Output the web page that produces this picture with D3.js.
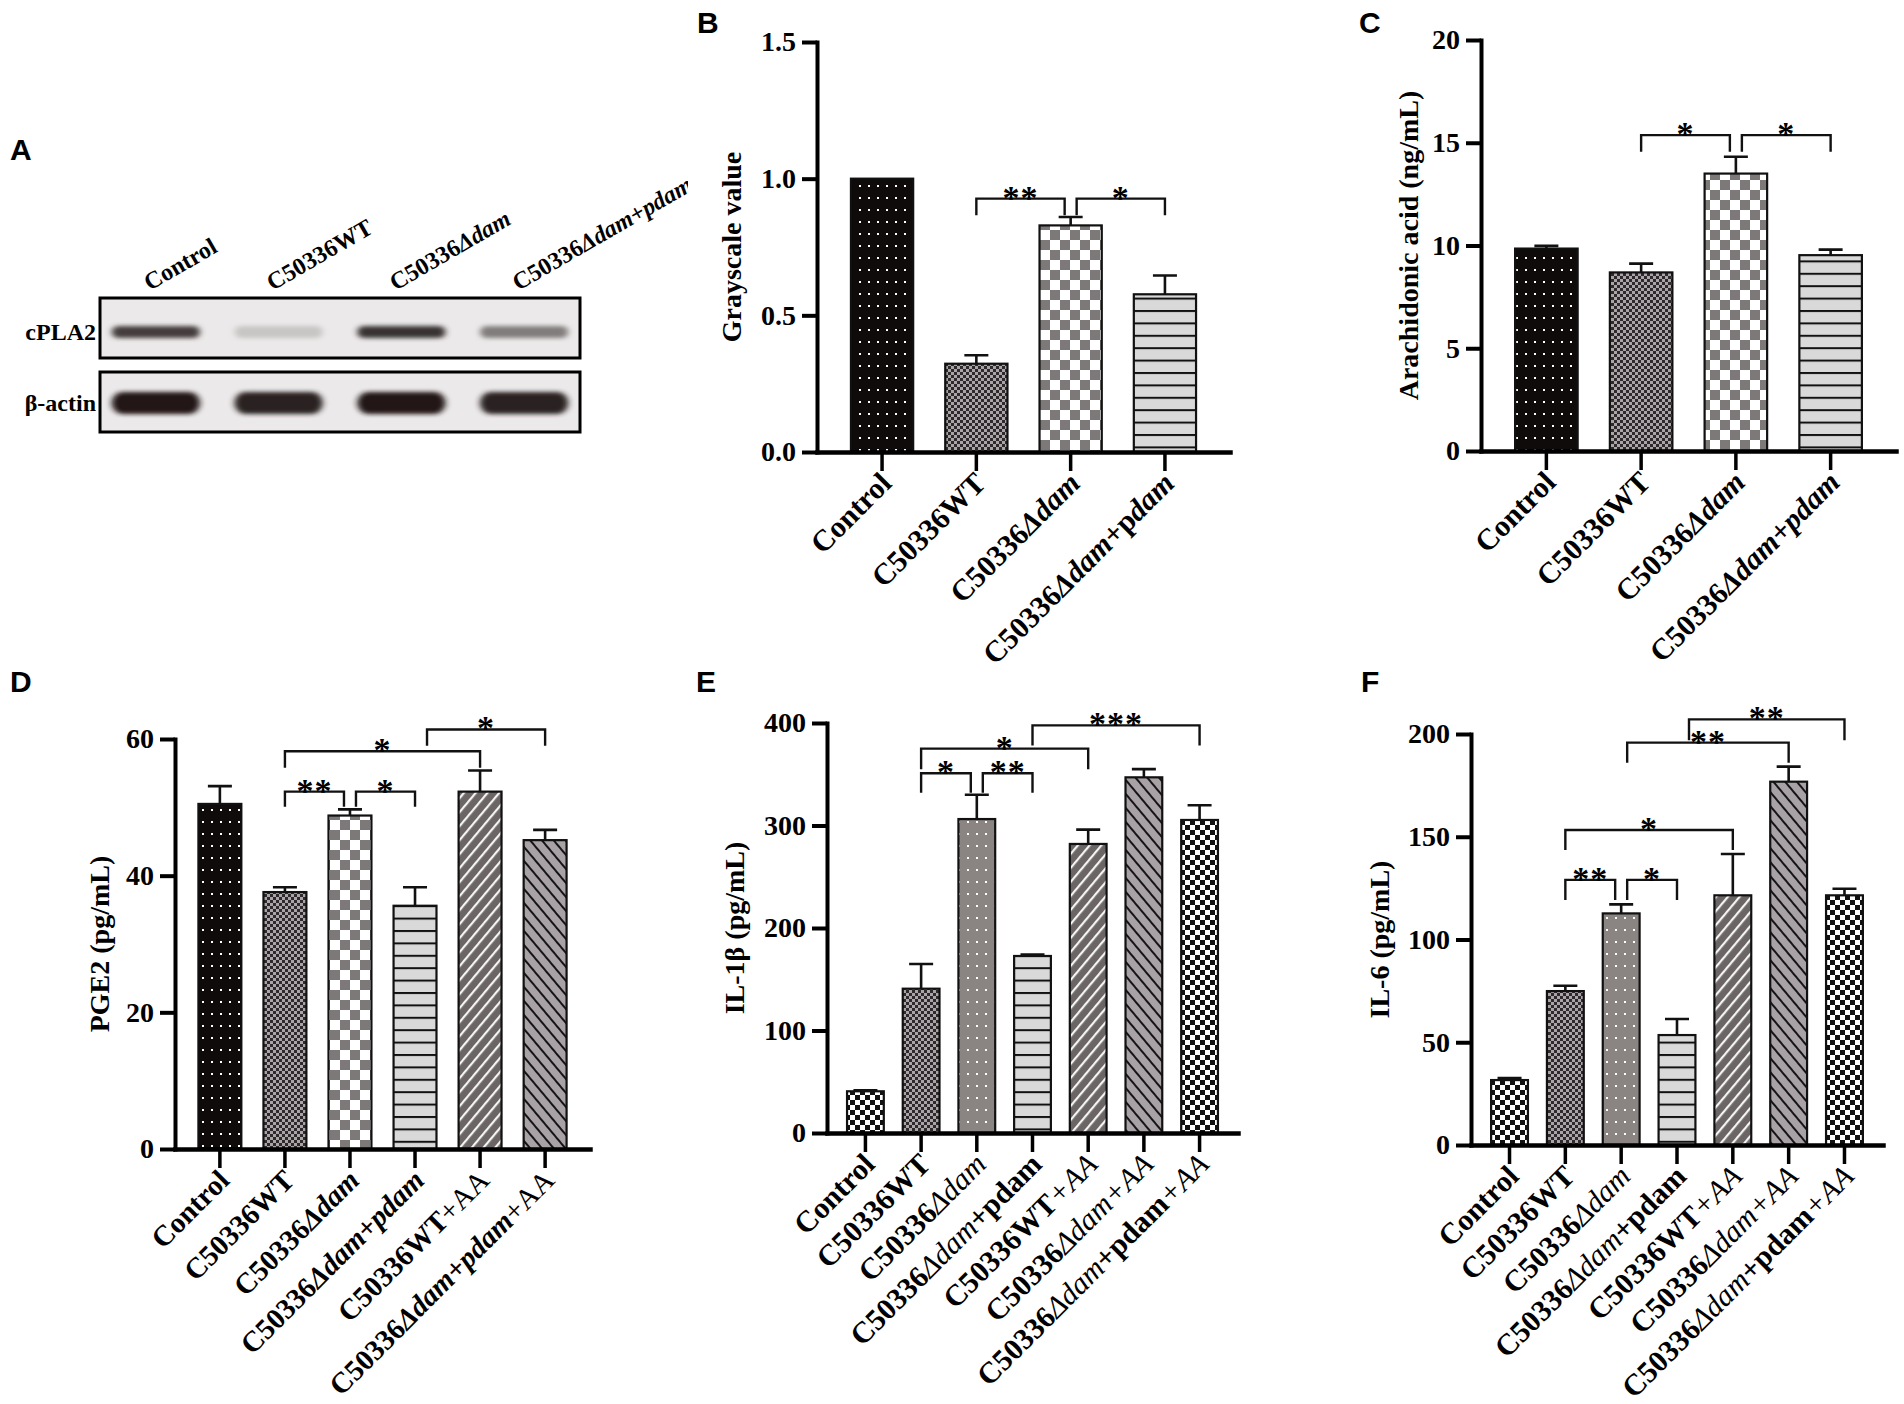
<!DOCTYPE html>
<html lang="en">
<head>
  <meta charset="UTF-8" />
  <title>cPLA2, AA, PGE2, IL-1β and IL-6 panels</title>
  <script src="https://d3js.org/d3.v7.min.js"></script>
  <style>
    body { margin: 0; background: #fff; }
    svg text { font-family: "Liberation Serif", "Times New Roman", serif; }
    svg text.letter { font-family: "Liberation Sans", Arial, sans-serif; font-weight: bold; font-size: 30px; }
  </style>
</head>
<body>
  <svg id="fig" width="1904" height="1404"></svg>

  <script>
    // ---------- data ----------
    // panel A: western blot, relative band darkness per lane (0 = blank, 1 = black)
    const blotLanes = ["Control", "C50336WT", "C50336Δdam", "C50336Δdam+pdam"];
    const blotRows = ["cPLA2", "β-actin"];
    const cpla2Band = [0.80, 0.16, 0.86, 0.50];
    const actinBand = [0.97, 0.92, 0.97, 0.93];

    // panels B, C
    const groups4 = ["Control", "C50336WT", "C50336Δdam", "C50336Δdam+pdam"];
    const grayMean = [1.00, 0.323, 0.829, 0.577];
    const graySem  = [0.00, 0.031, 0.031, 0.069];
    const aaMean = [9.85, 8.69, 13.5, 9.53];
    const aaSem  = [0.13, 0.43, 0.82, 0.27];

    // panel D
    const groups6 = ["Control", "C50336WT", "C50336Δdam", "C50336Δdam+pdam", "C50336WT+AA", "C50336Δdam+pdam+AA"];
    const pge2Mean = [50.5, 37.6, 48.8, 35.6, 52.3, 45.2];
    const pge2Sem  = [2.6, 0.7, 0.9, 2.7, 3.1, 1.5];

    // panels E, F
    const groups7 = ["Control", "C50336WT", "C50336Δdam", "C50336Δdam+pdam", "C50336WT+AA", "C50336Δdam+AA", "C50336Δdam+pdam+AA"];
    const il1bMean = [40.7, 140.8, 306.3, 172.7, 282.0, 347.0, 305.4];
    const il1bSem  = [0.9, 24.1, 23.7, 1.3, 14.0, 8.0, 14.3];
    const il6Mean = [31.6, 74.9, 112.7, 53.5, 121.5, 176.8, 121.5];
    const il6Sem  = [1.0, 2.6, 4.4, 7.8, 20.1, 7.3, 3.2];

    // significance brackets: a/b = group index, y = bracket level, leg = where legs stop
    // na/nb = small sideways nudge (in steps of 6px) so neighbouring brackets don't touch
    const sigB = [
      { a: 1, b: 2, y: 0.927, leg: 0.866, s: "**", nb: -1 },
      { a: 2, b: 3, y: 0.927, leg: 0.866, s: "*", na: 1 }
    ];
    const sigC = [
      { a: 1, b: 2, y: 15.37, leg: 14.56, s: "*", nb: -1 },
      { a: 2, b: 3, y: 15.37, leg: 14.56, s: "*", na: 1 }
    ];
    const sigD = [
      { a: 1, b: 2, y: 52.3, leg: 50.1, s: "**", nb: -1 },
      { a: 2, b: 3, y: 52.3, leg: 50.1, s: "*", na: 1 },
      { a: 1, b: 4, y: 58.2, leg: 55.8, s: "*" },
      { a: 3, b: 5, y: 61.4, leg: 59.0, s: "*", na: 2 }
    ];
    const sigE = [
      { a: 1, b: 2, y: 351, leg: 332, s: "*", nb: -1 },
      { a: 2, b: 3, y: 351, leg: 332, s: "**", na: 1 },
      { a: 1, b: 4, y: 375, leg: 355, s: "*" },
      { a: 3, b: 6, y: 397.7, leg: 378, s: "***" }
    ];
    const sigF = [
      { a: 1, b: 2, y: 129, leg: 119.2, s: "**", nb: -1 },
      { a: 2, b: 3, y: 129, leg: 119.2, s: "*", na: 1 },
      { a: 1, b: 4, y: 153.3, leg: 143.6, s: "*" },
      { a: 2, b: 5, y: 195.8, leg: 186, s: "**", na: 1 },
      { a: 3, b: 6, y: 207.1, leg: 197, s: "**", na: 2 }
    ];

    // ---------- drawing ----------
    const svg = d3.select("#fig");
    const defs = svg.append("defs");
    const SERIF = "'Liberation Serif', 'Times New Roman', serif";

    function pattern(id, w, h, bg, draw, transform) {
      const p = defs.append("pattern")
        .attr("id", id)
        .attr("patternUnits", "userSpaceOnUse")
        .attr("width", w)
        .attr("height", h);
      if (transform) p.attr("patternTransform", transform);
      p.append("rect").attr("width", w).attr("height", h).attr("fill", bg);
      draw(p);
    }

    pattern("dotsBlack", 9, 12, "#0f0b0b", p => p.append("rect").attr("x", 4).attr("y", 5).attr("width", 2).attr("height", 2).attr("fill", "#fff"));
    pattern("dotsGray", 9, 12, "#8a8482", p => p.append("rect").attr("x", 4).attr("y", 5).attr("width", 2).attr("height", 2).attr("fill", "#fff"));
    pattern("checkDark", 6, 6, "#aaa3a7", p => {
      p.append("rect").attr("width", 3).attr("height", 3).attr("fill", "#2e2a2b");
      p.append("rect").attr("x", 3).attr("y", 3).attr("width", 3).attr("height", 3).attr("fill", "#2e2a2b");
    });
    pattern("checkLarge", 20, 20, "#ffffff", p => {
      p.append("rect").attr("width", 10).attr("height", 10).attr("fill", "#7d7979");
      p.append("rect").attr("x", 10).attr("y", 10).attr("width", 10).attr("height", 10).attr("fill", "#7d7979");
    });
    pattern("checkBW", 10, 10, "#ffffff", p => {
      p.append("rect").attr("width", 5).attr("height", 5).attr("fill", "#111");
      p.append("rect").attr("x", 5).attr("y", 5).attr("width", 5).attr("height", 5).attr("fill", "#111");
    });
    pattern("hLines", 10, 12.4, "#d9d9d9", p => p.append("rect").attr("width", 10).attr("height", 2).attr("fill", "#111"));
    pattern("diagFwd", 9, 9, "#6b6565", p => p.append("rect").attr("width", 2.2).attr("height", 9).attr("fill", "#f4f4f4"), "rotate(40)");
    pattern("diagBack", 9, 9, "#a8a1a6", p => p.append("rect").attr("width", 2).attr("height", 9).attr("fill", "#151515"), "rotate(-40)");

    const blur = defs.append("filter").attr("id", "bandBlur").attr("x", "-20%").attr("y", "-60%").attr("width", "140%").attr("height", "220%");
    blur.append("feGaussianBlur").attr("stdDeviation", "3 2.2");

    // panel letters
    const letters = [["A", 10, 160], ["B", 697, 33], ["C", 1359, 33], ["D", 10, 692], ["E", 696, 692], ["F", 1361, 692]];
    svg.selectAll("text.letter").data(letters).join("text")
      .attr("class", "letter")
      .attr("x", d => d[1]).attr("y", d => d[2])
      .text(d => d[0]);

    // ---------- panel A: blot ----------
    (function drawBlot() {
      const g = svg.append("g");
      const lane = d3.scaleBand().domain(blotLanes).range([100, 580]).paddingInner(0.25).paddingOuter(0.08);
      const row = d3.scaleOrdinal().domain(blotRows).range([[298, 358], [372, 432]]);
      const shade = d3.interpolateRgb("#e9e7e7", "#1b1212");
      const bandH = { "cPLA2": 12, "β-actin": 22 };
      const bandY = { "cPLA2": 332, "β-actin": 403 };
      const levels = { "cPLA2": cpla2Band, "β-actin": actinBand };

      const clip = defs.append("clipPath").attr("id", "clipA");
      clip.append("rect").attr("x", 0).attr("y", 150).attr("width", 688).attr("height", 300);

      blotRows.forEach(r => {
        const [y0, y1] = row(r);
        g.append("rect").attr("x", 100).attr("y", y0).attr("width", 480).attr("height", y1 - y0)
          .attr("fill", "#ebe9e9");
        g.append("g").attr("filter", "url(#bandBlur)")
          .selectAll("rect").data(blotLanes).join("rect")
          .attr("x", d => lane(d) + 2)
          .attr("width", lane.bandwidth() - 4)
          .attr("y", bandY[r] - bandH[r] / 2)
          .attr("height", bandH[r])
          .attr("rx", bandH[r] / 2)
          .attr("fill", (d, i) => shade(levels[r][i]));
        g.append("rect").attr("x", 100).attr("y", y0).attr("width", 480).attr("height", y1 - y0)
          .attr("fill", "none").attr("stroke", "#000").attr("stroke-width", 3);
        g.append("text")
          .attr("x", 96).attr("y", bandY[r] + 8)
          .attr("text-anchor", "end")
          .attr("font-size", 24).attr("font-weight", "bold")
          .text(r);
      });

      const labels = g.append("g").attr("clip-path", "url(#clipA)");
      labels.selectAll("text").data(blotLanes).join("text")
        .attr("transform", d => `translate(${lane(d) + lane.bandwidth() / 2 - 6},291) rotate(-30)`)
        .attr("font-size", 24).attr("font-weight", "bold")
        .each(function (d) {
          const t = d3.select(this);
          const m = d.match(/^(C50336)(Δdam)?(\+p)?(dam)?(WT)?$/);
          if (!m) { t.text(d); return; }
          t.append("tspan").text(m[1] + (m[5] || ""));
          if (m[2]) t.append("tspan").attr("font-style", "italic").text(m[2]);
          if (m[3]) t.append("tspan").attr("font-style", "italic").text("+p");
          if (m[4]) t.append("tspan").attr("font-style", "italic").text(m[4]);
        });
    })();

    // ---------- bar panels ----------
    const fillsB = ["dotsBlack", "checkDark", "checkLarge", "hLines"];
    const fillsD = ["dotsBlack", "checkDark", "checkLarge", "hLines", "diagFwd", "diagBack"];
    const fillsE = ["checkBW", "checkDark", "dotsGray", "hLines", "diagFwd", "diagBack", "checkBW"];

    // how each panel typesets the group names
    const typeB = { dam: "bold", pdam: "split", aa: "regular" };
    const typeC = { dam: "bold", pdam: "italic", aa: "regular" };
    const typeE = { dam: "normal", pdam: "bold", aa: "italic" };

    function addLabel(text, name, type) {
      const parts = name.split(/(Δdam|\+pdam|\+AA)/).filter(s => s.length);
      parts.forEach(s => {
        if (s === "Δdam") {
          text.append("tspan").attr("font-style", "italic").attr("font-weight", type.dam).text(s);
        } else if (s === "+pdam") {
          if (type.pdam === "split") {
            text.append("tspan").text("+p");
            text.append("tspan").attr("font-style", "italic").text("dam");
          } else if (type.pdam === "italic") {
            text.append("tspan").attr("font-style", "italic").text(s);
          } else {
            text.append("tspan").text(s);
          }
        } else if (s === "+AA") {
          text.append("tspan").attr("font-weight", "normal")
            .attr("font-style", type.aa === "italic" ? "italic" : "normal").text(s);
        } else {
          text.append("tspan").text(s);
        }
      });
    }

    function barPanel(p) {
      const g = svg.append("g");
      const x = d3.scaleBand().domain(p.groups).range([p.x0, p.x1]).paddingInner(0.34).paddingOuter(0.36);
      const y = d3.scaleLinear().domain(p.domain).range([p.yZero, p.yTop]);
      const bw = x.bandwidth();
      const rows = p.groups.map((gname, i) => ({ g: gname, m: p.mean[i], e: p.sem[i], fill: p.fills[i] }));

      // bars
      g.append("g").selectAll("rect").data(rows).join("rect")
        .attr("x", d => x(d.g))
        .attr("y", d => y(d.m))
        .attr("width", bw)
        .attr("height", d => y(0) - y(d.m))
        .attr("fill", d => `url(#${d.fill})`)
        .attr("stroke", "#111")
        .attr("stroke-width", 2.2);

      // error bars (upper only)
      const eb = g.append("g").attr("stroke", "#111").attr("stroke-width", 2.6).attr("fill", "none");
      eb.selectAll("path").data(rows.filter(d => d.e > 0)).join("path")
        .attr("d", d => {
          const cx = x(d.g) + bw / 2;
          return `M${cx},${y(d.m)}V${y(d.m + d.e)}M${cx - 12},${y(d.m + d.e)}H${cx + 12}`;
        });

      // y axis
      const ya = g.append("g")
        .attr("transform", `translate(${p.x0},0)`)
        .call(d3.axisLeft(y).tickValues(p.ticks).tickFormat(p.fmt).tickSize(15).tickSizeOuter(0).tickPadding(6));
      ya.attr("font-family", SERIF).attr("font-size", 28).attr("font-weight", "bold");
      ya.select(".domain").attr("stroke-width", 4).attr("stroke", "#000").attr("stroke-linecap", "square");
      ya.selectAll(".tick line").attr("stroke-width", 4).attr("stroke", "#000");
      ya.selectAll(".tick text").attr("fill", "#000");

      // x axis
      const xa = g.append("g")
        .attr("transform", `translate(0,${p.yZero})`)
        .call(d3.axisBottom(x).tickSize(19).tickSizeOuter(0).tickFormat(""));
      xa.select(".domain").attr("stroke-width", 4.5).attr("stroke", "#000").attr("stroke-linecap", "square");
      xa.selectAll(".tick line").attr("stroke-width", 3.5).attr("stroke", "#000");

      // rotated group names
      g.append("g").selectAll("text").data(p.groups).join("text")
        .attr("transform", d => `translate(${x(d) + bw / 2 + 11},${p.yZero + 33}) rotate(-45)`)
        .attr("text-anchor", "end")
        .attr("font-size", p.labelSize || 30)
        .attr("font-weight", "bold")
        .each(function (d) { addLabel(d3.select(this), d, p.type); });

      // y title
      g.append("text")
        .attr("transform", `translate(${p.titleX},${(p.yTop + p.yZero) / 2}) rotate(-90)`)
        .attr("text-anchor", "middle")
        .attr("dominant-baseline", "central")
        .attr("font-size", 28)
        .attr("font-weight", "bold")
        .text(p.title);

      // significance brackets
      const sg = g.append("g");
      p.sig.forEach(s => {
        const xa0 = x(p.groups[s.a]) + bw / 2 + (s.na || 0) * 6;
        const xb0 = x(p.groups[s.b]) + bw / 2 + (s.nb || 0) * 6;
        const yl = y(s.y), yg = y(s.leg);
        sg.append("path")
          .attr("d", `M${xa0},${yg}V${yl}H${xb0}V${yg}`)
          .attr("fill", "none").attr("stroke", "#111").attr("stroke-width", 2.4);
        sg.append("text")
          .attr("x", (xa0 + xb0) / 2)
          .attr("y", yl + 10)
          .attr("text-anchor", "middle")
          .attr("font-size", 34)
          .attr("font-weight", "bold")
          .attr("letter-spacing", 1)
          .text(s.s);
      });
    }

    barPanel({ groups: groups4, mean: grayMean, sem: graySem, fills: fillsB, type: typeB, sig: sigB,
      x0: 817, x1: 1230, yTop: 42, yZero: 452, domain: [0, 1.5], ticks: [0, 0.5, 1, 1.5], fmt: d3.format(".1f"),
      title: "Grayscale value", titleX: 731 });

    barPanel({ groups: groups4, mean: aaMean, sem: aaSem, fills: fillsB, type: typeC, sig: sigC,
      x0: 1481, x1: 1896, yTop: 40, yZero: 451, domain: [0, 20], ticks: [0, 5, 10, 15, 20], fmt: d3.format("d"),
      title: "Arachidonic acid (ng/mL)", titleX: 1408 });

    barPanel({ groups: groups6, mean: pge2Mean, sem: pge2Sem, fills: fillsD, type: typeC, sig: sigD,
      x0: 175, x1: 590, yTop: 739, yZero: 1149, domain: [0, 60], ticks: [0, 20, 40, 60], fmt: d3.format("d"),
      title: "PGE2 (pg/mL)", titleX: 99, labelSize: 29 });

    barPanel({ groups: groups7, mean: il1bMean, sem: il1bSem, fills: fillsE, type: typeE, sig: sigE,
      x0: 827, x1: 1238, yTop: 723, yZero: 1133, domain: [0, 400], ticks: [0, 100, 200, 300, 400], fmt: d3.format("d"),
      title: "IL-1β (pg/mL)", titleX: 734 });

    barPanel({ groups: groups7, mean: il6Mean, sem: il6Sem, fills: fillsE, type: typeE, sig: sigF,
      x0: 1471, x1: 1883, yTop: 734, yZero: 1145, domain: [0, 200], ticks: [0, 50, 100, 150, 200], fmt: d3.format("d"),
      title: "IL-6 (pg/mL)", titleX: 1379 });
  </script>
</body>
</html>
